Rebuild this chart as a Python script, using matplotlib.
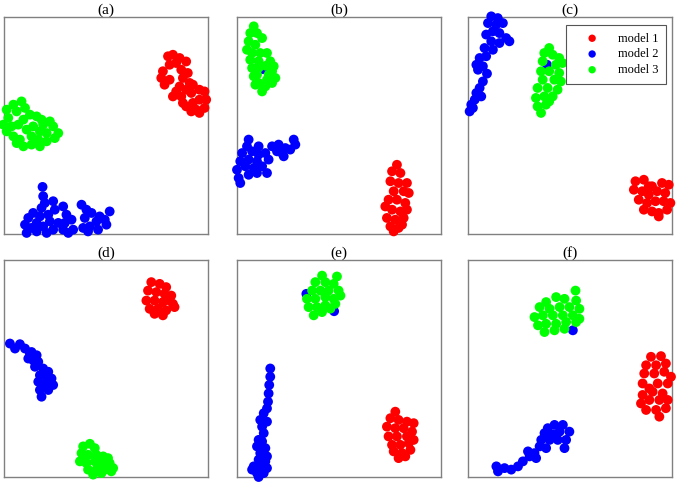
#!/usr/bin/env python3
"""Embedding scatter of three models, six panels (a)-(f)."""

import matplotlib
matplotlib.use("Agg")
import matplotlib.pyplot as plt
import numpy as np

LABELS = ["model 1", "model 2", "model 3"]
COLORS = ["#ff0000", "#0000ff", "#00ff00"]
PANEL_TITLES = ["(a)", "(b)", "(c)", "(d)", "(e)", "(f)"]

# embedding coordinates (arbitrary units, 0-100 per panel)
A_RED = [(80.4, 81.9), (82.8, 82.6), (86.1, 81.1), (89.3, 79.5), (84.4, 78.8), (81.2, 78.0),
         (77.9, 75.0), (77.1, 71.9), (78.7, 68.8), (81.2, 71.1), (86.9, 75.7), (87.7, 71.9),
         (90.1, 74.2), (91.0, 69.6), (89.3, 66.5), (84.4, 65.7), (82.8, 63.4), (86.9, 63.4),
         (91.8, 65.0), (95.8, 66.5), (98.3, 65.7), (99.1, 61.9), (95.8, 61.9), (92.6, 60.4),
         (89.3, 58.8), (94.2, 57.3), (98.3, 58.1), (95.8, 55.8), (91.8, 56.5), (87.7, 60.4),
         (86.1, 68.0), (92.6, 68.8)]
A_BLUE = [(18.9, 21.7), (19.2, 17.4), (20.0, 14.3), (18.4, 12.0), (24.1, 15.1), (24.9, 11.2),
          (21.7, 8.9), (17.6, 8.1), (14.3, 9.7), (11.9, 7.4), (10.3, 4.3), (11.1, 0.5),
          (13.5, 2.8), (16.0, 5.1), (19.2, 3.5), (22.5, 5.8), (24.1, 2.0), (26.6, 5.1),
          (29.0, 12.7), (30.6, 8.9), (29.8, 5.1), (29.0, 2.0), (33.1, 6.6), (33.9, 2.0),
          (31.5, 0.5), (38.0, 13.5), (40.4, 11.2), (42.9, 9.7), (39.6, 7.4), (38.8, 2.8),
          (42.1, 3.5), (45.3, 5.8), (46.9, 8.1), (49.4, 6.6), (51.8, 10.4), (50.2, 4.3),
          (46.1, 2.0), (41.2, 1.2), (20.9, 0.5), (16.0, 1.2)]
A_GREEN = [(1.3, 57.3), (4.6, 59.6), (8.6, 61.1), (10.3, 58.1), (6.2, 56.5), (2.1, 53.5),
           (-0.3, 50.4), (1.3, 47.3), (4.6, 45.0), (7.8, 43.5), (9.5, 40.4), (13.5, 41.2),
           (17.6, 40.4), (20.9, 42.7), (24.9, 44.2), (26.6, 46.5), (24.1, 49.6), (22.5, 51.9),
           (18.4, 52.7), (16.0, 54.2), (12.7, 55.0), (9.5, 52.7), (7.0, 50.4), (3.7, 49.6),
           (11.1, 48.1), (14.3, 49.6), (17.6, 47.3), (20.9, 46.5), (13.5, 45.0), (16.8, 43.5),
           (6.2, 41.9), (19.2, 50.4)]

B_RED = [(78.4, 31.9), (76.0, 28.9), (80.1, 28.1), (75.2, 24.3), (79.2, 23.5), (83.3, 23.5),
         (76.8, 19.7), (81.7, 19.7), (84.2, 18.9), (74.3, 15.8), (78.4, 15.8), (82.5, 14.3),
         (72.7, 12.7), (76.0, 11.2), (80.1, 10.4), (83.3, 11.2), (73.5, 7.4), (77.6, 6.6),
         (81.7, 7.4), (75.2, 3.5), (79.2, 2.8), (76.8, 1.2), (80.9, 4.3)]
B_BLUE = [(5.7, 43.5), (4.9, 40.4), (2.5, 37.3), (7.4, 38.1), (10.6, 36.6), (13.9, 37.3),
          (1.6, 33.5), (5.7, 34.3), (9.8, 33.5), (15.5, 34.3), (0.0, 29.6), (4.1, 31.2),
          (8.2, 30.4), (12.3, 31.2), (14.7, 28.1), (0.8, 25.8), (1.6, 23.5), (5.7, 27.3),
          (9.8, 28.1), (17.2, 40.4), (20.4, 41.2), (23.7, 39.6), (22.9, 35.8), (26.1, 38.9),
          (27.8, 43.5), (28.6, 41.2), (22.1, 37.3), (19.6, 38.1), (10.6, 40.4), (12.6, 76.0)]
B_GREEN = [(8.2, 95.7), (6.5, 92.6), (9.8, 92.6), (12.3, 90.3), (5.7, 88.8), (9.0, 87.2),
           (4.9, 84.9), (7.4, 83.4), (11.4, 83.4), (14.7, 83.4), (6.5, 80.3), (10.6, 79.6),
           (16.3, 79.6), (18.0, 77.3), (7.4, 76.5), (9.8, 73.4), (15.5, 73.4), (18.8, 71.9),
           (10.6, 69.6), (13.9, 68.0), (17.2, 69.6), (12.3, 65.7), (9.0, 68.8), (14.7, 71.1),
           (8.2, 72.7), (17.2, 75.0), (10.6, 76.6), (14.2, 77.5)]

C_RED = [(82.1, 24.3), (86.2, 25.0), (90.2, 22.0), (95.1, 23.5), (98.4, 22.7), (81.3, 20.4),
         (85.4, 19.7), (88.6, 18.1), (92.7, 19.7), (96.7, 18.9), (83.7, 15.8), (87.8, 14.3),
         (91.9, 15.1), (95.9, 15.1), (99.2, 14.3), (86.2, 11.2), (90.2, 10.4), (93.5, 9.7),
         (97.6, 11.2), (93.5, 8.1), (88.6, 22.0)]
C_BLUE = [(11.4, 100.3), (14.6, 99.5), (9.8, 97.2), (13.8, 96.5), (17.1, 97.2), (12.2, 93.4),
          (15.4, 92.6), (18.7, 90.3), (20.3, 88.8), (8.9, 91.9), (11.4, 88.8), (15.4, 88.0),
          (8.1, 85.7), (12.2, 84.9), (5.7, 81.1), (8.9, 81.9), (4.1, 78.0), (7.3, 77.3),
          (4.9, 75.7), (9.3, 73.9), (7.3, 70.3), (5.7, 67.3), (4.1, 65.0), (3.3, 61.9),
          (1.6, 59.6), (0.8, 56.5), (2.4, 58.1), (6.5, 63.4), (38.7, 78.0)]
C_GREEN = [(39.8, 85.7), (37.4, 83.4), (41.5, 82.6), (44.7, 81.1), (36.6, 79.6), (43.1, 78.0),
           (46.3, 78.8), (35.8, 75.0), (39.8, 75.0), (44.7, 74.2), (36.6, 71.1), (42.3, 71.1),
           (45.5, 70.3), (34.1, 67.3), (39.0, 67.3), (43.9, 66.5), (33.3, 62.7), (37.4, 63.4),
           (41.5, 63.4), (34.1, 58.8), (38.2, 59.6), (35.8, 55.8), (39.8, 61.1)]

D_RED = [(72.2, 89.8), (76.3, 89.0), (79.5, 87.5), (70.6, 85.9), (74.7, 85.2), (78.7, 84.4),
         (82.0, 83.6), (69.8, 81.3), (73.8, 81.3), (77.9, 80.6), (82.8, 79.8), (71.4, 77.5),
         (75.5, 77.5), (79.5, 76.8), (83.6, 78.3), (77.9, 74.5), (73.8, 75.2), (81.2, 81.3)]
D_BLUE = [(2.9, 61.5), (5.4, 59.2), (7.8, 61.2), (10.3, 59.2), (13.5, 57.6), (16.0, 56.1),
          (14.3, 53.8), (16.8, 53.1), (15.2, 50.8), (19.2, 50.0), (21.7, 48.5), (17.6, 46.9),
          (20.9, 46.2), (23.3, 45.4), (16.8, 43.9), (20.0, 43.1), (24.1, 42.4), (17.6, 40.1),
          (21.7, 40.1), (18.4, 37.0), (12.7, 56.9), (11.9, 54.6)]
D_GREEN = [(38.8, 14.1), (42.1, 15.3), (44.5, 13.3), (38.0, 11.0), (41.2, 10.2), (45.3, 10.2),
           (48.6, 9.5), (51.0, 8.7), (37.2, 7.2), (40.4, 6.4), (44.5, 7.2), (47.8, 6.4),
           (51.8, 6.4), (53.5, 4.1), (41.2, 3.4), (45.3, 3.4), (49.4, 3.4), (52.6, 2.6),
           (43.7, 1.1), (47.8, 1.8), (39.6, 8.7)]

E_RED = [(77.6, 30.1), (75.2, 27.1), (79.2, 26.3), (83.3, 25.5), (86.6, 24.8), (73.5, 23.2),
         (77.6, 22.5), (81.7, 22.5), (85.8, 20.9), (74.3, 18.7), (78.4, 18.7), (83.3, 18.7),
         (86.6, 17.1), (76.0, 14.8), (80.1, 14.8), (84.2, 15.6), (76.8, 11.8), (80.9, 11.0),
         (85.0, 12.5), (79.2, 8.7), (82.5, 9.5)]
E_BLUE = [(16.3, 50.0), (16.3, 46.2), (15.8, 42.4), (15.5, 38.5), (15.2, 34.7), (14.7, 31.6),
          (13.1, 29.4), (11.4, 26.3), (14.7, 25.5), (12.3, 23.2), (13.1, 20.2), (10.6, 17.1),
          (12.3, 16.4), (9.8, 14.1), (13.9, 13.3), (11.4, 11.0), (14.7, 9.5), (10.6, 8.0),
          (13.9, 7.2), (8.2, 4.9), (12.3, 4.9), (14.7, 4.1), (9.8, 1.8), (13.1, 1.8),
          (7.4, 3.4), (10.6, 0.0), (47.6, 76.4), (34.0, 84.4)]
E_GREEN = [(41.7, 92.8), (49.0, 92.4), (38.4, 89.8), (43.3, 89.8), (47.4, 89.0), (36.8, 85.9),
           (40.9, 85.9), (44.9, 85.9), (49.8, 85.9), (34.3, 82.1), (38.4, 82.1), (43.3, 82.9),
           (47.4, 82.1), (50.7, 83.6), (35.1, 78.3), (39.2, 78.3), (43.3, 79.1), (48.2, 79.8),
           (37.6, 74.5), (41.7, 76.0), (45.8, 77.6)]

F_RED = [(89.7, 55.4), (94.6, 55.7), (87.3, 51.5), (92.2, 51.5), (97.0, 52.3), (86.4, 47.7),
         (91.3, 47.7), (96.2, 48.5), (99.5, 46.2), (85.6, 43.1), (88.9, 40.8), (93.0, 43.1),
         (97.9, 43.1), (90.5, 39.3), (95.4, 38.5), (84.8, 33.9), (88.9, 35.5), (93.8, 35.5),
         (97.9, 35.5), (87.3, 30.9), (92.2, 30.9), (97.0, 31.7), (93.8, 27.8), (85.6, 37.8)]
F_BLUE = [(13.9, 4.9), (14.7, 2.6), (17.9, 4.1), (21.2, 3.4), (24.5, 4.9), (26.9, 7.2),
          (30.2, 9.5), (29.4, 11.8), (32.6, 11.0), (35.1, 14.1), (35.9, 17.1), (37.5, 20.2),
          (39.1, 22.5), (42.4, 24.0), (46.5, 24.0), (49.7, 20.9), (48.1, 17.1), (47.3, 13.3),
          (44.0, 17.1), (40.0, 17.1), (38.3, 13.3), (33.4, 8.7), (44.9, 20.9), (41.6, 19.6),
          (51.4, 67.6)]
F_GREEN = [(52.7, 85.9), (43.2, 82.9), (47.3, 82.1), (53.0, 81.3), (38.3, 80.6), (35.1, 78.3),
           (40.0, 77.5), (44.9, 78.3), (49.7, 78.3), (54.6, 77.5), (32.6, 73.7), (36.7, 74.5),
           (41.6, 74.5), (46.5, 74.5), (51.4, 74.5), (54.6, 72.9), (34.3, 69.9), (38.3, 70.6),
           (43.2, 70.6), (48.1, 71.4), (53.0, 71.4), (37.5, 66.8), (42.4, 67.6), (47.3, 68.3)]

PANELS = [
    (A_RED, A_BLUE, A_GREEN),
    (B_RED, B_BLUE, B_GREEN),
    (C_RED, C_BLUE, C_GREEN),
    (D_RED, D_BLUE, D_GREEN),
    (E_RED, E_BLUE, E_GREEN),
    (F_RED, F_BLUE, F_GREEN),
]


def main():
    plt.rcParams.update({
        "font.family": ["Liberation Serif", "DejaVu Serif"],
        "font.size": 9,
    })

    fig = plt.figure(figsize=(6.77, 4.82), dpi=100)
    W, H = 677.0, 482.0
    lefts = [4, 237, 468]
    bottoms = [234, 477]
    aw, ah = 204, 217

    for idx, (series, title) in enumerate(zip(PANELS, PANEL_TITLES)):
        row, col = divmod(idx, 3)
        ax = fig.add_axes([lefts[col] / W, 1 - bottoms[row] / H, aw / W, ah / H])
        for pts, color, label in zip(series, COLORS, LABELS):
            pts = np.asarray(pts)
            ax.scatter(pts[:, 0], pts[:, 1], s=50, c=color, edgecolors="none",
                       label=label, clip_on=False, zorder=3)
        ax.set_xlim(0, 100)
        ax.set_ylim(0, 100)
        ax.set_xticks([])
        ax.set_yticks([])
        for sp in ax.spines.values():
            sp.set_color("#808080")
            sp.set_linewidth(1.0)
        ax.set_title(title, fontsize=11, pad=2)

        if idx == 2:
            leg = ax.legend(loc="upper right", bbox_to_anchor=(0.97, 0.963),
                            fancybox=False, framealpha=1, edgecolor="#555555",
                            handlelength=3.0, handletextpad=0.56, borderpad=0.6,
                            labelspacing=0.3, borderaxespad=0, fontsize=9,
                            scatterpoints=1, markerscale=0.75)
            leg.get_frame().set_linewidth(0.8)
            leg.set_zorder(5)

    fig.savefig("out.png", dpi=100)
    plt.close(fig)


if __name__ == "__main__":
    main()
